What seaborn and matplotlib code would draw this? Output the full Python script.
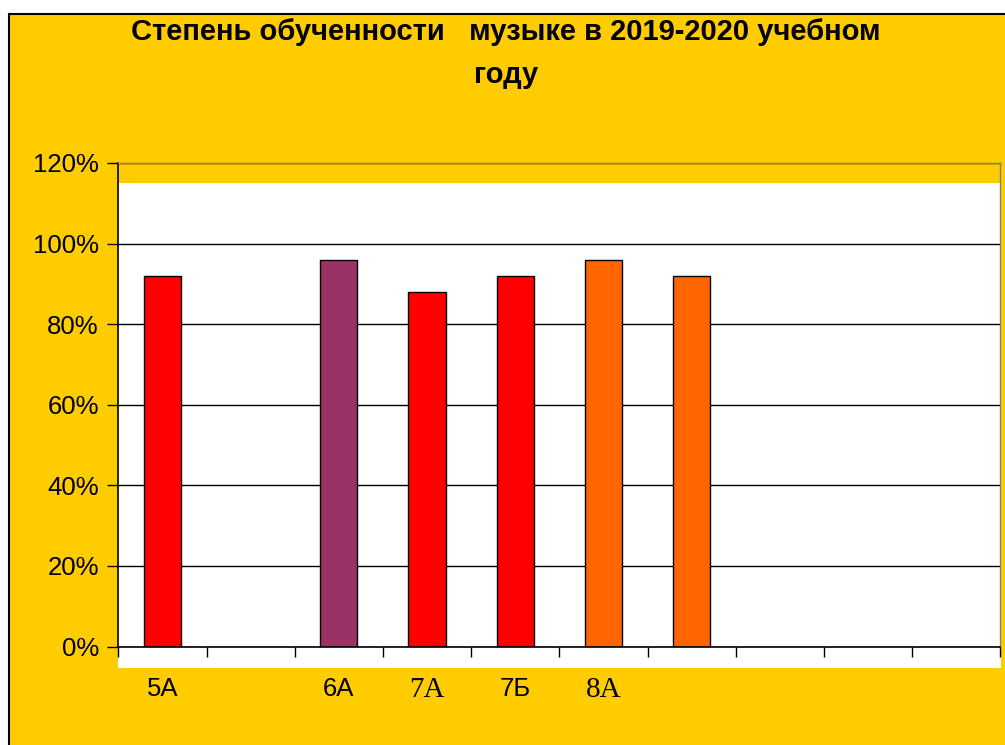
import numpy as np
import pandas as pd
import seaborn as sns
import matplotlib.pyplot as plt
from matplotlib.patches import Rectangle

# Data (10 category slots, some empty)
slot_labels = ["5А", "", "6А", "7А", "7Б", "8А", "", "", "", ""]
values = [0.92, np.nan, 0.96, 0.88, 0.92, 0.96, 0.92, np.nan, np.nan, np.nan]
bar_colors = ["#FF0000", "#FF0000", "#993366", "#FF0000", "#FF0000",
              "#FF6600", "#FF6600", "#FF0000", "#FF0000", "#FF0000"]
serif_labels = ["7А", "8А"]
title = "Степень обученности   музыке в 2019-2020 учебном\nгоду"
y_ticks = [0, 0.2, 0.4, 0.6, 0.8, 1.0, 1.2]

YELLOW = "#FFCC00"

sns.set_theme(style="white", rc={"text.color": "black",
                                 "xtick.color": "black",
                                 "ytick.color": "black"})
plt.rcParams['font.family'] = ['Liberation Sans', 'DejaVu Sans']

slots = list(range(len(values)))
df = pd.DataFrame({"slot": slots, "value": values})

fig = plt.figure(figsize=(10.05, 7.45), dpi=100, facecolor="white")

# yellow chart area with black border on the top and left edges
fig.patches.append(Rectangle((8.5 / 1005, -0.1), 1.2, 1 - 14.5 / 745 + 0.1,
                             transform=fig.transFigure, facecolor=YELLOW,
                             edgecolor="black", linewidth=1.5, zorder=-10))

ax = fig.add_axes([118.3 / 1005, 1 - 646.5 / 745, 882 / 1005, 483.5 / 745])
ax.set_facecolor(YELLOW)
ax.set_axisbelow(True)

# white plot area that stops short of the 120% line and runs past 0%
ax.add_patch(Rectangle((0, -0.0445), 1.001, 1.003, transform=ax.transAxes,
                       facecolor="white", edgecolor="none", zorder=0.1,
                       clip_on=False))

sns.barplot(data=df, x="slot", y="value", hue="slot", order=slots,
            hue_order=slots, palette=bar_colors, legend=False, width=0.42,
            edgecolor="black", linewidth=1, saturation=1, ax=ax, zorder=2)

ax.set_ylim(0, 1.2)
ax.set_xlim(-0.5, len(values) - 0.5)
ax.set_yticks(y_ticks)
ax.set_yticklabels([f"{int(round(t * 100))}%" for t in y_ticks])
ax.yaxis.grid(True, color="black", linewidth=1)
ax.xaxis.grid(False)

# category labels at slot centres, tick marks at slot boundaries
ax.set_xticks(slots)
ax.set_xticklabels(slot_labels)
ax.tick_params(axis="x", length=0, pad=22, labelcolor="black")
ax.set_xticks(np.arange(-0.5, len(values), 1), minor=True)
ax.tick_params(axis="x", which="minor", length=7, width=1, color="black",
               direction="out", bottom=True)
ax.tick_params(axis="y", length=8, width=1, color="black", direction="out",
               left=True, pad=6, labelsize=18.5, labelcolor="black")
for lab in ax.get_xticklabels():
    if lab.get_text() in serif_labels:
        lab.set_fontfamily(['Liberation Serif', 'DejaVu Serif'])
        lab.set_fontsize(21)
    else:
        lab.set_fontsize(18.5)

ax.set_xlabel("")
ax.set_ylabel("")

for side in ["left", "bottom"]:
    ax.spines[side].set_color("black")
    ax.spines[side].set_linewidth(1.2)
for side in ["top", "right"]:
    ax.spines[side].set_color("#808080")
    ax.spines[side].set_linewidth(1)
    ax.spines[side].set_visible(True)

fig.text(506 / 1005, 1 - 18 / 745, title, ha="center", va="top",
         fontsize=21, fontweight="bold", linespacing=1.7,
         multialignment="center", color="black")

fig.savefig("out.png", dpi=100, facecolor=fig.get_facecolor())
